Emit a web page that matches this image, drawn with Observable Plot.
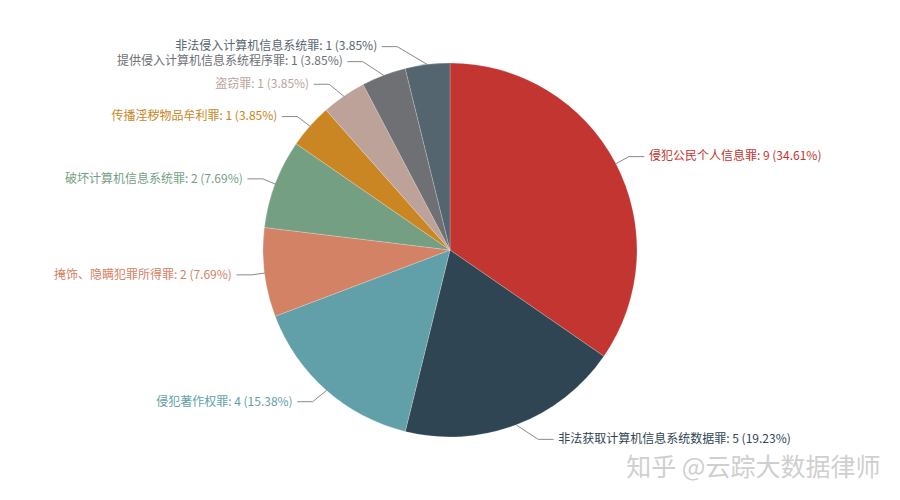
<!DOCTYPE html>
<html>
<head>
<meta charset="utf-8">
<script src="https://cdn.jsdelivr.net/npm/d3@7"></script>
<script src="https://cdn.jsdelivr.net/npm/@observablehq/plot@0.6"></script>
<style>
  html, body { margin: 0; padding: 0; background: #fff; }
  #chart { width: 900px; height: 500px; }
</style>
</head>
<body>
<div id="chart"></div>
<script>
// ---- Data ----
const names = [
  "侵犯公民个人信息罪",
  "非法获取计算机信息系统数据罪",
  "侵犯著作权罪",
  "掩饰、隐瞒犯罪所得罪",
  "破坏计算机信息系统罪",
  "传播淫秽物品牟利罪",
  "盗窃罪",
  "提供侵入计算机信息系统程序罪",
  "非法侵入计算机信息系统罪"
];
const values = [9, 5, 4, 2, 2, 1, 1, 1, 1];
const percentLabels = ["34.61%", "19.23%", "15.38%", "7.69%", "7.69%", "3.85%", "3.85%", "3.85%", "3.85%"];
const colors = ["#c23531", "#2f4554", "#61a0a8", "#d48265", "#749f83", "#ca8622", "#bda29a", "#6e7074", "#546570"];
const watermark = "知乎 @云踪大数据律师";

// ---- Layout constants ----
const W = 900, H = 500;
const CX = 450, CY = 250, R = 187;
const LEN1 = 15, LEN2 = 15, LABEL_R = 215, GAP = 5, MIN_SPACING = 15;

const rows = names.map((name, i) => ({name, value: values[i], pct: percentLabels[i]}));
const arcs = d3.pie().sort(null).value(d => d.value)(rows);

// Label layout (ECharts-like)
const labels = arcs.map(a => {
  const mid = (a.startAngle + a.endAngle) / 2;
  const sx = Math.sin(mid), sy = -Math.cos(mid);
  const side = sx >= 0 ? 1 : -1;
  return {
    name: a.data.name,
    text: `${a.data.name}: ${a.data.value} (${a.data.pct})`,
    side,
    x0: CX + R * sx, y0: CY + R * sy,
    x1: CX + (R + LEN1) * sx, y1: CY + (R + LEN1) * sy,
    ly: CY + (R + LEN1) * sy
  };
});
for (const s of [1, -1]) {
  // labels above the centre: push upward when crowded
  const up = labels.filter(l => l.side === s && l.ly < CY).sort((a, b) => b.ly - a.ly);
  for (let i = 1; i < up.length; i++) {
    if (up[i - 1].ly - up[i].ly < MIN_SPACING) up[i].ly = up[i - 1].ly - MIN_SPACING;
  }
  // labels below the centre: push downward when crowded
  const down = labels.filter(l => l.side === s && l.ly >= CY).sort((a, b) => a.ly - b.ly);
  for (let i = 1; i < down.length; i++) {
    if (down[i].ly - down[i - 1].ly < MIN_SPACING) down[i].ly = down[i - 1].ly + MIN_SPACING;
  }
  labels.filter(l => l.side === s).forEach(l => {
    const dy = Math.abs(l.ly - CY);
    const dx = dy < LABEL_R ? Math.sqrt(LABEL_R * LABEL_R - dy * dy) : Math.abs(l.x1 - CX) + LEN2;
    l.ex = CX + s * dx;
    l.mx = l.ex - s * LEN2;
    l.tx = l.ex + s * GAP;
  });
}
const linePts = labels.flatMap(l => [
  {name: l.name, x: l.x0, y: l.y0},
  {name: l.name, x: l.mx, y: l.ly},
  {name: l.name, x: l.ex, y: l.ly}
]);

// Pie slices as a render-function mark using Plot's scales
function pieSlices(index, scales, values, dimensions, context) {
  const X = scales.x, Y = scales.y, C = scales.color;
  const cx = X(CX), cy = Y(CY);
  const r = Math.abs(X(CX + R) - X(CX));
  const arcGen = d3.arc().innerRadius(0).outerRadius(r);
  const g = d3.create("svg:g").attr("transform", `translate(${cx},${cy})`);
  g.selectAll("path")
    .data(arcs)
    .join("path")
    .attr("d", arcGen)
    .attr("fill", d => C(d.data.name))
    .attr("stroke", "#ffffff")
    .attr("stroke-opacity", 0.35)
    .attr("stroke-width", 0.6);
  return g.node();
}

const font = "'Noto Sans CJK SC', 'Microsoft YaHei', sans-serif";

const chart = Plot.plot({
  width: W,
  height: H,
  margin: 0,
  x: {domain: [0, W], range: [0, W], axis: null},
  y: {domain: [0, H], range: [0, H], axis: null},
  color: {domain: names, range: colors},
  style: {fontFamily: font, background: "#fff"},
  marks: [
    pieSlices,
    Plot.line(linePts, {x: "x", y: "y", z: "name", stroke: "#8a8a8a", strokeWidth: 1, curve: "linear"}),
    Plot.text(labels.filter(l => l.side > 0), {
      x: "tx", y: "ly", text: "text", fill: "name",
      textAnchor: "start", fontSize: 12, fontFamily: font
    }),
    Plot.text(labels.filter(l => l.side < 0), {
      x: "tx", y: "ly", text: "text", fill: "name",
      textAnchor: "end", fontSize: 12, fontFamily: font
    }),
    Plot.text([watermark], {
      text: d => d, frameAnchor: "bottom-right", textAnchor: "end", lineAnchor: "middle",
      dx: -20, dy: -33, fontSize: 25, fill: "#cfcfcf", fontFamily: font
    })
  ]
});

document.getElementById("chart").appendChild(chart);
</script>
</body>
</html>
